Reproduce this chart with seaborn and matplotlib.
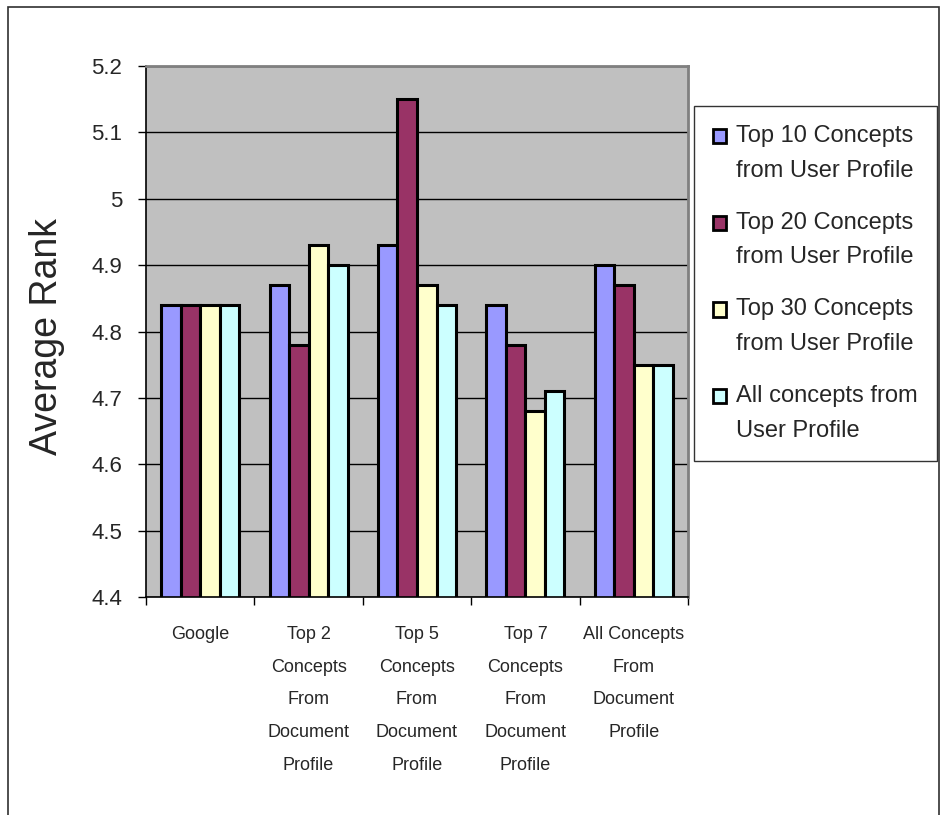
import numpy as np
import pandas as pd
import matplotlib
matplotlib.use("Agg")
import matplotlib.pyplot as plt
from matplotlib.patches import Rectangle
from matplotlib.legend_handler import HandlerPatch
from matplotlib.ticker import FuncFormatter
import seaborn as sns

# Query-expansion strategies (x axis)
categories = [
    "Google",
    "Top 2\nConcepts\nFrom\nDocument\nProfile",
    "Top 5\nConcepts\nFrom\nDocument\nProfile",
    "Top 7\nConcepts\nFrom\nDocument\nProfile",
    "All Concepts\nFrom\nDocument\nProfile",
]

# User-profile variants (legend)
series_names = [
    "Top 10 Concepts\nfrom User Profile",
    "Top 20 Concepts\nfrom User Profile",
    "Top 30 Concepts\nfrom User Profile",
    "All concepts from\nUser Profile",
]

# Average rank per strategy, one list per user-profile variant
top10_user = [4.84, 4.87, 4.93, 4.84, 4.90]
top20_user = [4.84, 4.78, 5.15, 4.78, 4.87]
top30_user = [4.84, 4.93, 4.87, 4.68, 4.75]
all_user = [4.84, 4.90, 4.84, 4.71, 4.75]

y_ticks = [4.4, 4.5, 4.6, 4.7, 4.8, 4.9, 5.0, 5.1, 5.2]

colors = ["#9999FF", "#993366", "#FFFFCC", "#CCFFFF"]

rows = []
for name, vals in zip(series_names, [top10_user, top20_user, top30_user, all_user]):
    for cat, v in zip(categories, vals):
        rows.append({"strategy": cat, "profile": name, "rank": v})
df = pd.DataFrame(rows)

sns.set_theme(style="white")
plt.rcParams["font.family"] = ["Liberation Sans", "DejaVu Sans"]

fig = plt.figure(figsize=(9.45, 8.15), dpi=100)
ax = fig.add_axes([146 / 945, 1 - 597 / 815, 542 / 945, 531 / 815])
ax.set_facecolor("#C0C0C0")
ax.set_axisbelow(True)

sns.barplot(
    data=df, x="strategy", y="rank", hue="profile",
    order=categories, hue_order=series_names,
    palette=colors, saturation=1, width=0.72,
    edgecolor="black", linewidth=2.2, ax=ax, legend=False,
)

ax.set_ylim(4.4, 5.2)
ax.set_xlim(-0.5, 4.5)
ax.set_yticks(y_ticks)
ax.yaxis.set_major_formatter(FuncFormatter(lambda v, p: f"{v:g}"))
ax.grid(axis="y", color="black", linewidth=1)
ax.grid(axis="x", visible=False)

# category labels centred under groups, tick marks on group boundaries
ax.set_xticks(np.arange(-0.5, 5.0, 1.0), minor=True)
ax.tick_params(axis="x", which="major", length=0, pad=21, labelsize=13)
ax.tick_params(axis="x", which="minor", length=6, width=1, color="black",
               direction="out", bottom=True)
ax.tick_params(axis="y", which="major", length=6, width=1, color="black",
               direction="out", left=True, pad=11, labelsize=16)
for lbl in ax.get_xticklabels():
    lbl.set_linespacing(2.2)
    lbl.set_multialignment("center")

ax.set_xlabel("")
ax.set_ylabel("Average Rank", fontsize=27)
ax.yaxis.set_label_coords(-0.15, 0.49)

for side in ["top", "right"]:
    ax.spines[side].set_color("#808080")
    ax.spines[side].set_linewidth(2)
for side in ["left", "bottom"]:
    ax.spines[side].set_color("black")
    ax.spines[side].set_linewidth(1.2)


# legend swatches sit beside the first line of each two-line entry
def top_aligned_square(legend, orig_handle, xdescent, ydescent, width, height, fontsize):
    return Rectangle((-xdescent, -ydescent + 12.5), width, height)


proxies = [Rectangle((0, 0), 1, 1, facecolor=c, edgecolor="black", linewidth=2)
           for c in colors]
leg = ax.legend(
    proxies, series_names,
    handler_map={Rectangle: HandlerPatch(patch_func=top_aligned_square)},
    loc="upper left", bbox_to_anchor=(694 / 945, 1 - 106 / 815),
    bbox_transform=fig.transFigure, frameon=True, fancybox=False,
    fontsize=17, handlelength=0.55, handleheight=0.55, handletextpad=0.45,
    labelspacing=1.27, borderpad=0.8, borderaxespad=0,
)
leg.get_frame().set_edgecolor("black")
leg.get_frame().set_linewidth(1)
for t in leg.get_texts():
    t.set_linespacing(1.75)

# outer chart border
fig.add_artist(Rectangle((8 / 945, -0.02), 931 / 945, 1.02 - 7 / 815,
                         transform=fig.transFigure, fill=False,
                         edgecolor="#303030", linewidth=1.2))

fig.savefig("out.png", dpi=100, facecolor="white")
